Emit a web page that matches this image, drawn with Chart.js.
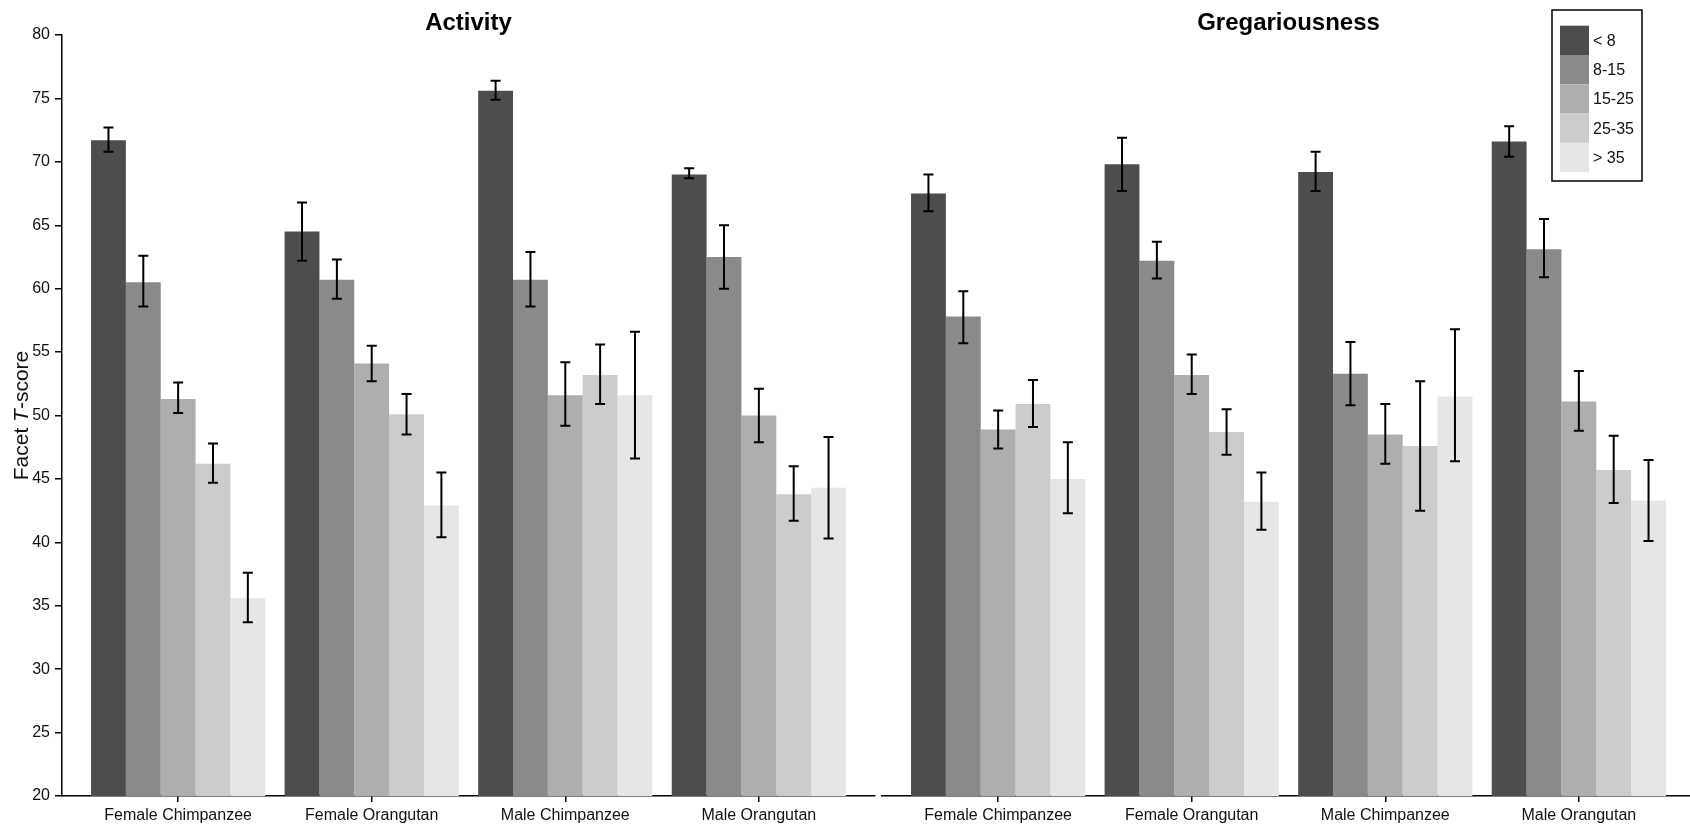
<!DOCTYPE html>
<html>
<head>
<meta charset="utf-8">
<script src="https://cdn.jsdelivr.net/npm/chart.js@4"></script>
<style>
  body { margin: 0; background: #fff; width: 1690px; height: 827px; overflow: hidden; position: relative; }
  canvas { position: absolute; top: 0; }
</style>
</head>
<body>
<canvas id="activityChart" width="880" height="827" style="left:0px"></canvas>
<canvas id="gregChart" width="823" height="827" style="left:877px"></canvas>
<script>
// categories and age groups
var categories = ['Female Chimpanzee', 'Female Orangutan', 'Male Chimpanzee', 'Male Orangutan'];
var ageGroups = ['< 8', '8-15', '15-25', '25-35', '> 35'];
var greys = ['#4D4D4D', '#8A8A8A', '#AEAEAE', '#CCCCCC', '#E6E6E6'];
var yTicks = [20, 25, 30, 35, 40, 45, 50, 55, 60, 65, 70, 75, 80];

// Activity: rows = age group, cols = category
var activityMean = [
    [71.7, 64.5, 75.6, 69.0],
    [60.5, 60.7, 60.7, 62.5],
    [51.3, 54.1, 51.6, 50.0],
    [46.2, 50.1, 53.2, 43.8],
    [35.6, 42.9, 51.6, 44.3]
];
var activityLow = [
    [70.8, 62.2, 74.9, 68.7],
    [58.6, 59.2, 58.6, 60.0],
    [50.2, 52.7, 49.2, 47.9],
    [44.7, 48.5, 50.9, 41.7],
    [33.7, 40.4, 46.6, 40.3]
];
var activityHigh = [
    [72.7, 66.8, 76.4, 69.5],
    [62.6, 62.3, 62.9, 65.0],
    [52.6, 55.5, 54.2, 52.1],
    [47.8, 51.7, 55.6, 46.0],
    [37.6, 45.5, 56.6, 48.3]
];

// Gregariousness
var gregMean = [
    [67.5, 69.8, 69.2, 71.6],
    [57.8, 62.2, 53.3, 63.1],
    [48.9, 53.2, 48.5, 51.1],
    [50.9, 48.7, 47.6, 45.7],
    [45.0, 43.2, 51.5, 43.3]
];
var gregLow = [
    [66.1, 67.7, 67.7, 70.4],
    [55.7, 60.8, 50.8, 60.9],
    [47.4, 51.7, 46.2, 48.8],
    [49.1, 46.9, 42.5, 43.1],
    [42.3, 41.0, 46.4, 40.1]
];
var gregHigh = [
    [69.0, 71.9, 70.8, 72.8],
    [59.8, 63.7, 55.8, 65.5],
    [50.4, 54.8, 50.9, 53.5],
    [52.8, 50.5, 52.7, 48.4],
    [47.9, 45.5, 56.8, 46.5]
];

var FONT = "'Liberation Sans', Arial, Helvetica, sans-serif";
var TEXT = '#111';

function buildDatasets(means, lows, highs) {
    return ageGroups.map(function (g, a) {
        return {
            label: g,
            data: means[a].map(function (v, c) { return { x: c + 1, y: v }; }),
            errLow: lows[a],
            errHigh: highs[a],
            backgroundColor: greys[a],
            borderWidth: 0,
            categoryPercentage: 0.9,
            barPercentage: 1.0
        };
    });
}

// draws error bars from the dataset's errLow / errHigh
var errorBars = {
    id: 'errorBars',
    afterDatasetsDraw: function (chart) {
        var ctx = chart.ctx;
        var yScale = chart.scales.y;
        ctx.save();
        ctx.strokeStyle = '#000';
        ctx.lineWidth = 2;
        chart.data.datasets.forEach(function (ds, d) {
            var meta = chart.getDatasetMeta(d);
            meta.data.forEach(function (bar, i) {
                var x = bar.x;
                var yl = yScale.getPixelForValue(ds.errLow[i]);
                var yh = yScale.getPixelForValue(ds.errHigh[i]);
                ctx.beginPath();
                ctx.moveTo(x, yl); ctx.lineTo(x, yh);
                ctx.moveTo(x - 5, yl); ctx.lineTo(x + 5, yl);
                ctx.moveTo(x - 5, yh); ctx.lineTo(x + 5, yh);
                ctx.stroke();
            });
        });
        ctx.restore();
    }
};

// panel title over the chart area
var panelTitle = {
    id: 'panelTitle',
    afterDraw: function (chart, args, opts) {
        var ctx = chart.ctx, a = chart.chartArea;
        ctx.save();
        ctx.font = 'bold 24px ' + FONT;
        ctx.fillStyle = '#000';
        ctx.textAlign = 'center';
        ctx.textBaseline = 'alphabetic';
        ctx.fillText(opts.text, (a.left + a.right) / 2, 30);
        ctx.restore();
    }
};

// y axis title with italic T
var yTitle = {
    id: 'yTitle',
    afterDraw: function (chart, args, opts) {
        if (!opts.show) return;
        var ctx = chart.ctx, a = chart.chartArea;
        var parts = [['Facet ', '21px ' + FONT], ['T', 'italic 21px ' + FONT], ['-score', '21px ' + FONT]];
        ctx.save();
        var total = 0;
        parts.forEach(function (p) { ctx.font = p[1]; total += ctx.measureText(p[0]).width; });
        ctx.translate(28, (a.top + a.bottom) / 2);
        ctx.rotate(-Math.PI / 2);
        ctx.fillStyle = TEXT;
        ctx.textBaseline = 'alphabetic';
        ctx.textAlign = 'left';
        var x = -total / 2;
        parts.forEach(function (p) {
            ctx.font = p[1];
            ctx.fillText(p[0], x, 0);
            x += ctx.measureText(p[0]).width;
        });
        ctx.restore();
    }
};

// boxed legend in the top right
var boxLegend = {
    id: 'boxLegend',
    afterDraw: function (chart, args, opts) {
        if (!opts.show) return;
        var ctx = chart.ctx, a = chart.chartArea;
        var bx = a.right - 143, by = a.top - 25, bw = 90, bh = 171;
        var sw = 29, sh = 29.3;
        ctx.save();
        ctx.strokeStyle = '#000';
        ctx.lineWidth = 1.5;
        ctx.strokeRect(bx, by, bw, bh);
        ctx.font = '16px ' + FONT;
        ctx.fillStyle = TEXT;
        ctx.textBaseline = 'middle';
        chart.data.datasets.forEach(function (ds, i) {
            var sy = by + 15.7 + i * sh;
            ctx.fillStyle = ds.backgroundColor;
            ctx.fillRect(bx + 8, sy, sw, sh);
            ctx.fillStyle = TEXT;
            ctx.fillText(ds.label, bx + 41, sy + sh / 2 + 1);
        });
        ctx.restore();
    }
};

function makeChart(id, title, means, lows, highs, isLeft) {
    var ctx = document.getElementById(id);
    return new Chart(ctx, {
        type: 'bar',
        data: { datasets: buildDatasets(means, lows, highs) },
        plugins: [errorBars, panelTitle, yTitle, boxLegend],
        options: {
            responsive: false,
            animation: false,
            layout: { padding: { top: 35, bottom: 0, left: isLeft ? 0 : 5, right: 5 } },
            plugins: {
                legend: { display: false },
                tooltip: { enabled: false },
                panelTitle: { text: title },
                yTitle: { show: isLeft },
                boxLegend: { show: !isLeft }
            },
            scales: {
                x: {
                    type: 'linear',
                    min: 0.4,
                    max: 4.6,
                    offset: false,
                    grid: { drawOnChartArea: false, offset: false, color: '#000', lineWidth: 1.5, tickLength: 6 },
                    border: { display: true, color: '#000', width: 1.5 },
                    afterBuildTicks: function (scale) {
                        scale.ticks = categories.map(function (c, i) { return { value: i + 1 }; });
                    },
                    afterFit: function (scale) { scale.height = 31; },
                    ticks: {
                        autoSkip: false,
                        maxRotation: 0,
                        padding: 4,
                        color: TEXT,
                        font: { family: FONT, size: 16 },
                        callback: function (v) { return categories[v - 1]; }
                    }
                },
                y: {
                    display: isLeft,
                    min: 20,
                    max: 80,
                    grid: { drawOnChartArea: false, color: '#000', lineWidth: 1.5, tickLength: 7 },
                    border: { display: true, color: '#000', width: 1.5 },
                    afterBuildTicks: function (scale) {
                        scale.ticks = yTicks.map(function (v) { return { value: v }; });
                    },
                    afterFit: function (scale) { scale.width = isLeft ? 62 : 0; },
                    ticks: {
                        padding: 5,
                        color: TEXT,
                        font: { family: FONT, size: 16 }
                    }
                }
            }
        }
    });
}

makeChart('activityChart', 'Activity', activityMean, activityLow, activityHigh, true);
makeChart('gregChart', 'Gregariousness', gregMean, gregLow, gregHigh, false);
</script>
</body>
</html>
